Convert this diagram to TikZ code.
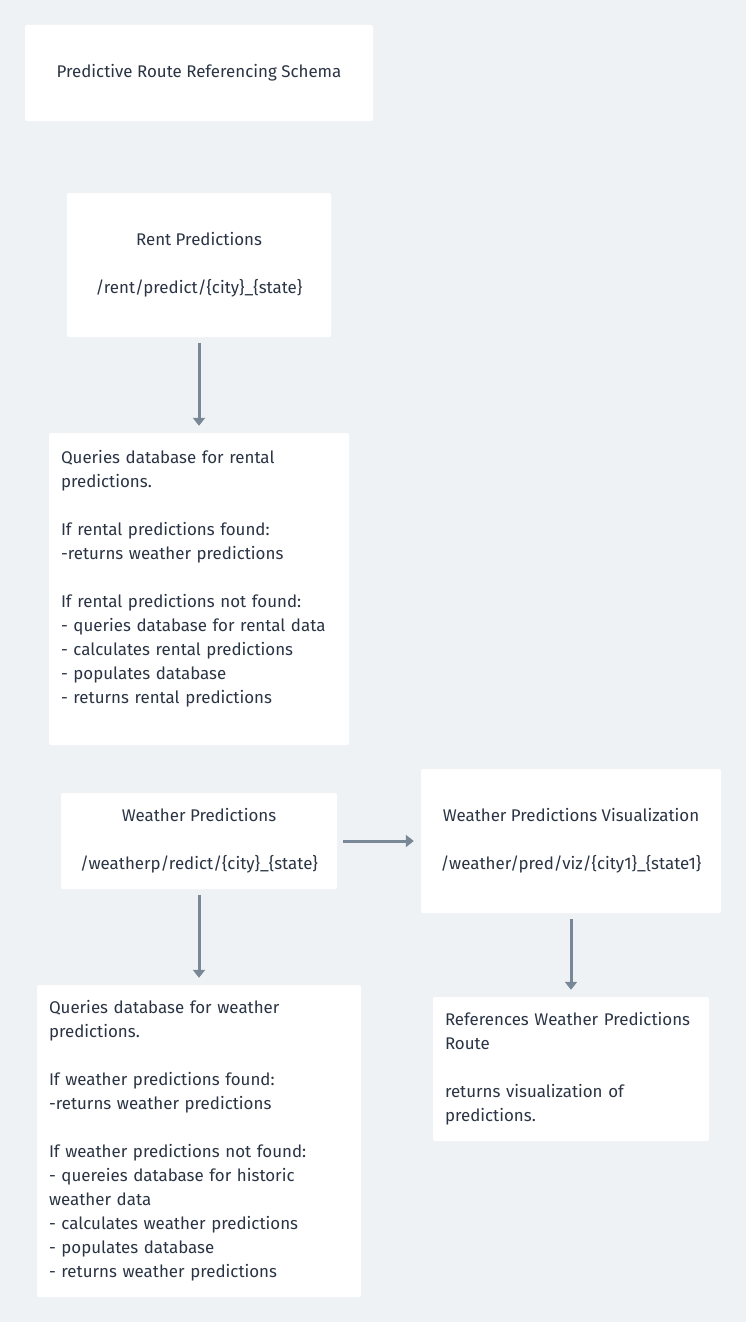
\documentclass[tikz,border=0pt]{standalone}
\usepackage{fontspec}
\setmainfont{Fira Sans}
\usetikzlibrary{arrows.meta}

\begin{document}
\begin{tikzpicture}[x=1pt, y=-1pt,
    card/.style={rectangle, fill=white, rounded corners=2pt, inner sep=0pt,
        text=ui_text, font=\fontsize{16.9}{24}\selectfont},
    link/.style={draw=ui_arrow, line width=3pt, shorten <=6pt, shorten >=7pt,
        -{Triangle[width=12pt,length=8pt]}}]
    \definecolor{ui_back}{HTML}{EFF2F5}
    \definecolor{ui_text}{HTML}{2A3444}
    \definecolor{ui_arrow}{HTML}{788897}
    %\draw[help lines] (0,0) grid (746,1322);
    \path[fill=ui_back] (0,0) rectangle (746,1322);
    \useasboundingbox (0,0) rectangle (746,1322);

    \node[card, minimum width=348pt, minimum height=96pt] (schema) at (199,73)
        {Predictive Route Referencing Schema};
    \node[card, minimum width=264pt, minimum height=144pt, align=center] (rent) at (199,265)
        {Rent Predictions\\[24pt] /rent/predict/\{city\}\_\{state\}};
    \node[card, minimum width=300pt, minimum height=312pt, text width=276pt, align=left] (rentquery) at (199,589)
        {Queries database for rental\\ predictions.\\[24pt]
         If rental predictions found:\\ -returns weather predictions\\[24pt]
         If rental predictions not found:\\ - queries database for rental data\\
         - calculates rental predictions\\ - populates database\\
         - returns rental predictions\\ ~};
    \node[card, minimum width=276pt, minimum height=96pt, align=center] (weather) at (199,841)
        {Weather Predictions\\[24pt] /weatherp/redict/\{city\}\_\{state\}};
    \node[card, minimum width=300pt, minimum height=144pt, align=center] (weatherviz) at (571,841)
        {Weather Predictions Visualization\\[24pt] /weather/pred/viz/\{city1\}\_\{state1\}};
    \node[card, minimum width=324pt, minimum height=312pt, text width=300pt, align=left] (weatherquery) at (199,1141)
        {Queries database for weather\\ predictions.\\[24pt]
         If weather predictions found:\\ -returns weather predictions\\[24pt]
         If weather predictions not found:\\ - quereies database for historic\\
         weather data\\ - calculates weather predictions\\
         - populates database\\ - returns weather predictions};
    \node[card, minimum width=276pt, minimum height=144pt, text width=252pt, align=left] (vizref) at (571,1069)
        {References Weather Predictions\\ Route\\[24pt]
         returns visualization of\\ predictions.};

    \draw[link] (rent) -- (rentquery);
    \draw[link] (weather) -- (weatherviz);
    \draw[link] (weather) -- (weatherquery);
    \draw[link] (weatherviz) -- (vizref);
\end{tikzpicture}
\end{document}
